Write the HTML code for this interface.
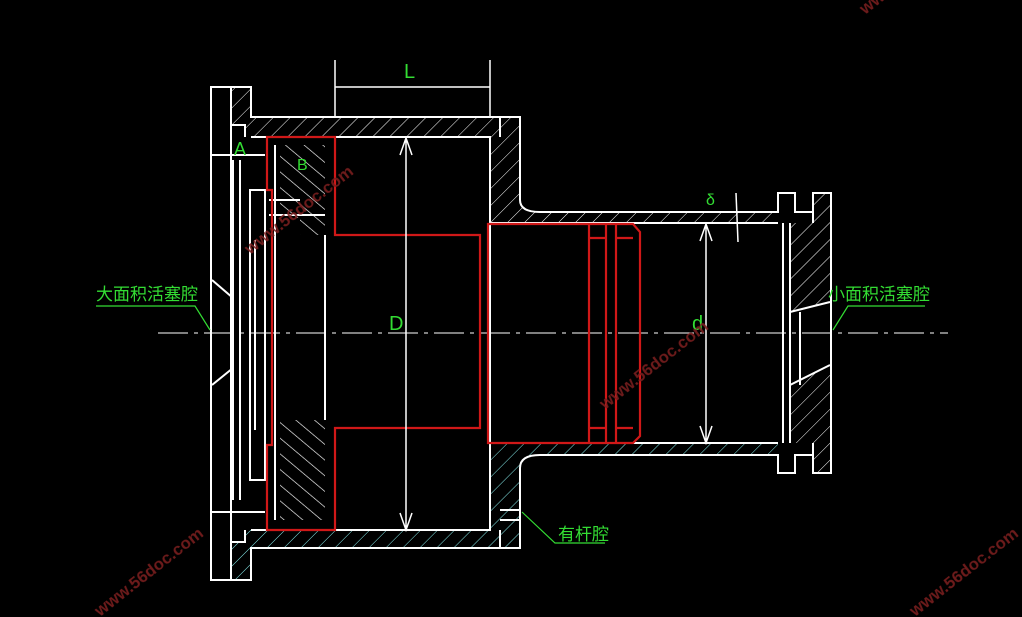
<!DOCTYPE html>
<html><head><meta charset="utf-8"><style>
html,body{margin:0;padding:0;background:#000;}
svg{display:block}
text{font-family:"Liberation Sans","Noto Sans CJK SC",sans-serif;}
</style></head><body>
<svg width="1022" height="617" viewBox="0 0 1022 617" xmlns="http://www.w3.org/2000/svg">
<defs>
<pattern id="hw" patternUnits="userSpaceOnUse" width="12" height="12" patternTransform="rotate(45)">
<line x1="0" y1="0" x2="0" y2="12" stroke="#fff" stroke-width="1"/></pattern>
<pattern id="hc" patternUnits="userSpaceOnUse" width="12" height="12" patternTransform="rotate(45)">
<line x1="0" y1="0" x2="0" y2="12" stroke="#8ee" stroke-width="1"/></pattern>
<pattern id="hp" patternUnits="userSpaceOnUse" width="12" height="12" patternTransform="rotate(-50)">
<line x1="0" y1="0" x2="0" y2="12" stroke="#fff" stroke-width="1.3"/></pattern>
</defs>
<rect width="1022" height="617" fill="#000"/>

<!-- hatched regions -->
<g stroke="none">
<path d="M231 87 H251 V117 H520 V200 Q520 212 540 212 H778 V223 H490 V137 H245 V125 H231Z" fill="url(#hw)"/>
<path d="M231 580 H251 V548 H520 V468 Q520 455 540 455 H778 V443 H490 V530 H245 V542 H231Z" fill="url(#hc)"/>
<path d="M813 193 H831 V473 H813 V443 H790 V385 L830 365 V302 L790 312 V223 H813Z" fill="url(#hw)"/>
<path d="M280 145 H325 V235 H300 V218 H280Z" fill="url(#hp)"/>
<path d="M280 420 H325 V520 H280Z" fill="url(#hp)"/>
</g>

<!-- white outlines -->
<g stroke="#fff" stroke-width="2" fill="none">
<path d="M211 87 H251 V117 H520 V200 Q520 212 540 212 H778 V193 H795 V212 H813 V193 H831 V473 H813 V455 H795 V473 H778 V455 H540 Q520 455 520 468 V548 H251 V580 H211 Z"/>
<path d="M251 137 H490 V223 H778 M490 137 V530 H251 M490 443 H778 M813 212 V223 M813 443 V455"/>
<path d="M231 87 V580 M231 125 H245 V137 M231 542 H245 V530"/>
<path d="M211 155 H265 M211 512 H265 M233 160 V500 M240 160 V500"/>
<path d="M212 280 L233 298 M212 385 L233 368"/>
<path d="M250 190 H265 V480 H250 Z M255 240 V430"/>
<path d="M275 145 V520 M325 235 V420 M269 215 H325 M269 200 H300"/>
<path d="M500 117 V137 M500 530 V548 M500 510 H520 M500 520 H520"/>
<path d="M783 223 V443 M790 223 V443 M790 312 L830 302 M790 385 L830 365 M800 312 V385"/>
</g>

<!-- center line -->
<line x1="158" y1="333" x2="948" y2="333" stroke="#fff" stroke-width="1" stroke-dasharray="30,6,4,6"/>

<!-- red parts -->
<g stroke="#d01818" stroke-width="2.2" fill="none">
<path d="M267 137 H335 V235 H480 V428 H335 V530 H267 V445 H272 V190 H267 Z"/>
<path d="M488 224 H633 L640 232 V436 L633 443 H488 Z"/>
<path d="M589 224 V443 M606 224 V443 M616 224 V443 M589 238 H606 M589 428 H606 M616 238 H633 M616 428 H633"/>
</g>

<!-- dimensions -->
<g stroke="#fff" stroke-width="1.5" fill="none">
<path d="M335 60 V117 M490 60 V117 M335 87 H490"/>
<path d="M406 138 V530 M400 155 L406 138 L412 155 M400 513 L406 530 L412 513"/>
<path d="M706 224 V443 M700 241 L706 224 L712 241 M700 426 L706 443 L712 426"/>
<path d="M736 193 L738 242"/>
</g>

<!-- labels -->
<g fill="#33dd33" font-size="17">
<text x="404" y="78" font-size="20">L</text>
<text x="234" y="155" font-size="18">A</text>
<text x="297" y="170" font-size="16">B</text>
<text x="389" y="330" font-size="20">D</text>
<text x="692" y="330" font-size="20">d</text>
<text x="706" y="205" font-size="16">δ</text>
<text x="96" y="300">大面积活塞腔</text>
<text x="828" y="300">小面积活塞腔</text>
<text x="558" y="540">有杆腔</text>
</g>
<g stroke="#33dd33" stroke-width="1.2" fill="none">
<path d="M96 306 H195 L210 330"/>
<path d="M925 306 H848 L833 330"/>
<path d="M605 543 H555 L522 512"/>
</g>

<!-- watermarks -->
<g fill="#7a1f1f" font-size="17" font-weight="bold" opacity="0.9">
<text transform="translate(250,255) rotate(-38)">www.56doc.com</text>
<text transform="translate(605,410) rotate(-38)">www.56doc.com</text>
<text transform="translate(100,617) rotate(-38)">www.56doc.com</text>
<text transform="translate(915,617) rotate(-38)">www.56doc.com</text>
<text transform="translate(865,15) rotate(-38)">www.56doc.com</text>
</g>
</svg>
</body></html>
